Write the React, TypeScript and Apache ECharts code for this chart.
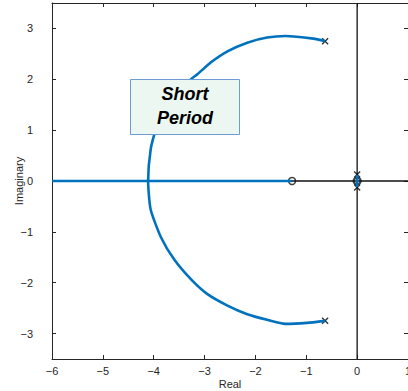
import React, { useEffect, useRef } from "react";
import * as echarts from "echarts";

// Root locus branch (short period), from upper pole to lower pole
const locusRe = [-0.63, -0.86, -1.41, -1.77, -2.16, -2.55, -2.88, -3.14, -3.27, -3.5, -3.75, -3.96, -4.06, -4.11, -4.06, -3.86, -3.6, -3.27, -2.95, -2.55, -2.16, -1.77, -1.41, -0.99, -0.63];
const locusIm = [2.75, 2.8, 2.85, 2.82, 2.72, 2.55, 2.33, 2.1, 2.0, 1.7, 1.35, 1.0, 0.62, 0, -0.56, -1.1, -1.54, -1.93, -2.22, -2.45, -2.62, -2.73, -2.81, -2.79, -2.75];
// Real-axis branch
const realBranchRe = [-6, -1.28];
const realBranchIm = [0, 0];
// Phugoid branch
const phugoidRe = [0, 0];
const phugoidIm = [0.12, -0.12];
// Poles and zeros
const polesRe = [-0.63, -0.63, 0, 0];
const polesIm = [2.75, -2.75, 0.13, -0.13];
const zerosRe = [-1.28, 0];
const zerosIm = [0, 0];
// Axis ticks
const xTicks = [-6, -5, -4, -3, -2, -1, 0, 1];
const yTicks = [-3, -2, -1, 0, 1, 2, 3];

const zip = (a: number[], b: number[]) => a.map((v, i) => [v, b[i]]);
const fmt = (v: number) => String(v).replace("-", "\u2212");

export default function App() {
  const ref = useRef<HTMLDivElement>(null);
  useEffect(() => {
    if (!ref.current) return;
    const chart = echarts.init(ref.current, undefined, { renderer: "svg" });
    const font = "'Liberation Sans', Arial, Helvetica, sans-serif";
    const axisColor = "#262626";
    const labelStyle = { color: axisColor, fontSize: 11, fontFamily: font };
    const blue = "#0072BD";
    const xSym = "path://M0,0L10,10M10,0L0,10";
    chart.setOption({
      animation: false,
      grid: { left: 52, right: 0, top: 3, bottom: 32, containLabel: false, outerBoundsMode: "none" },
      xAxis: [
        {
          type: "value", min: xTicks[0], max: xTicks[xTicks.length - 1], interval: 1,
          name: "Real", nameLocation: "middle", nameGap: 19, nameMoveOverlap: false,
          nameTextStyle: { ...labelStyle },
          axisLine: { show: true, onZero: false, lineStyle: { color: axisColor, width: 1 } },
          axisTick: { show: true, inside: true, length: 4, lineStyle: { color: axisColor } },
          axisLabel: { ...labelStyle, margin: 6, formatter: fmt },
          splitLine: { show: false },
        },
        {
          type: "value", position: "top", min: xTicks[0], max: xTicks[xTicks.length - 1], interval: 1,
          axisLine: { show: true, onZero: false, lineStyle: { color: axisColor, width: 1 } },
          axisTick: { show: true, inside: true, length: 4, lineStyle: { color: axisColor } },
          axisLabel: { show: false },
          splitLine: { show: false },
        },
      ],
      yAxis: [
        {
          type: "value", min: -3.5, max: 3.5,
          name: "Imaginary", nameLocation: "middle", nameGap: 28, nameMoveOverlap: false,
          nameTextStyle: { ...labelStyle },
          axisLine: { show: true, onZero: false, lineStyle: { color: axisColor, width: 1 } },
          axisTick: { show: true, inside: true, length: 4, customValues: yTicks, lineStyle: { color: axisColor } },
          axisLabel: { ...labelStyle, margin: 19, formatter: fmt, customValues: yTicks },
          splitLine: { show: false },
        },
        {
          type: "value", position: "right", min: -3.5, max: 3.5,
          axisLine: { show: true, onZero: false, lineStyle: { color: axisColor, width: 1 } },
          axisTick: { show: true, inside: true, length: 4, customValues: yTicks, lineStyle: { color: axisColor } },
          axisLabel: { show: false, customValues: yTicks },
          splitLine: { show: false },
        },
      ],
      series: [
        {
          type: "line", data: [[0, -3.5], [0, 3.5]], symbol: "none",
          lineStyle: { color: "#111", width: 1.3 }, silent: true,
        },
        {
          type: "line", data: [[-6, 0], [1, 0]], symbol: "none",
          lineStyle: { color: "#111", width: 1.3 }, silent: true,
        },
        {
          type: "line", data: zip(realBranchRe, realBranchIm), symbol: "none",
          lineStyle: { color: blue, width: 2.6 },
        },
        {
          type: "line", data: zip(locusRe, locusIm), symbol: "none", smooth: 0.2,
          lineStyle: { color: blue, width: 2.6 },
        },
        {
          type: "line", data: zip(phugoidRe, phugoidIm), symbol: "none",
          lineStyle: { color: blue, width: 2.6 },
        },
        {
          type: "scatter", data: zip(polesRe, polesIm), symbol: xSym, symbolSize: 6,
          itemStyle: { color: "none", borderColor: "#000", borderWidth: 1.4 },
        },
        {
          type: "scatter",
          data: zip(zerosRe, zerosIm).map((d, i) =>
            i === 1 ? { value: d, itemStyle: { borderWidth: 2.4 } } : d
          ),
          symbol: "circle", symbolSize: 7,
          itemStyle: { color: "rgba(255,255,255,0)", borderColor: "#111", borderWidth: 1.5 },
        },
      ],
      graphic: [
        {
          type: "rect", left: 130, top: 79, z: 100,
          shape: { width: 109, height: 55 },
          style: { fill: "#edf7f1", stroke: "#6f9bd4", lineWidth: 1 },
        },
        {
          type: "text", x: 185, y: 94, z: 101,
          style: { text: "Short", fill: "#000", font: `italic bold 18px ${font}`, align: "center", verticalAlign: "middle" },
        },
        {
          type: "text", x: 185, y: 118, z: 101,
          style: { text: "Period", fill: "#000", font: `italic bold 18px ${font}`, align: "center", verticalAlign: "middle" },
        },
      ],
    });
    return () => chart.dispose();
  }, []);
  return <div ref={ref} style={{ position: "fixed", left: 0, top: 0, width: 408, height: 391, background: "#fff" }} />;
}
